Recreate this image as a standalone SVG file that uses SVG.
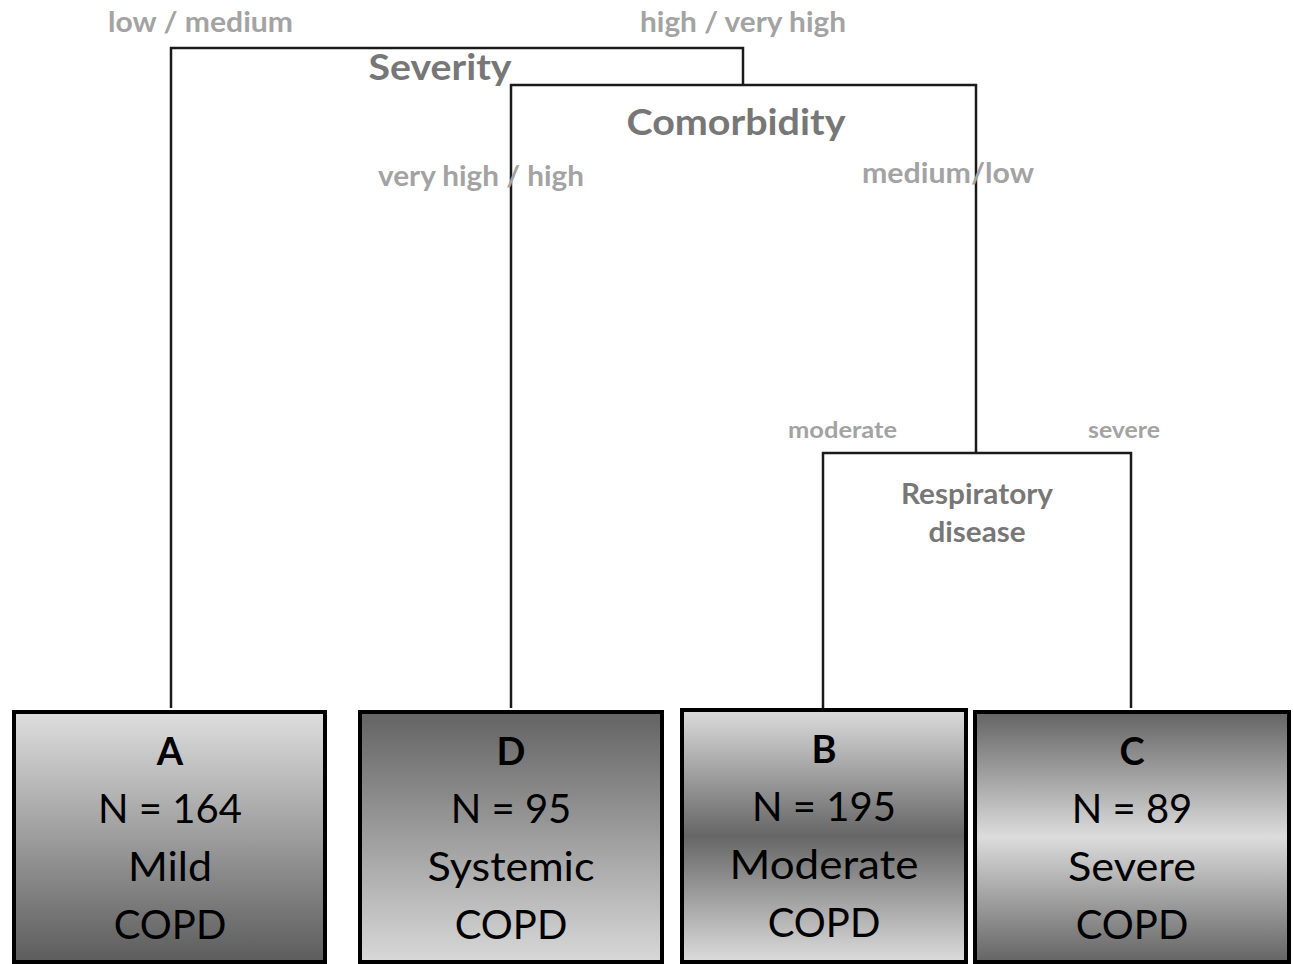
<svg xmlns="http://www.w3.org/2000/svg" width="1293" height="964" viewBox="0 0 1293 964">
<style>
.ln{stroke:#1a1a1a;stroke-width:2.5;fill:none}
.box{stroke:#000;stroke-width:4}
.lbl{font-family:Lato,"Open Sans",sans-serif;font-weight:bold;fill:#a3a3a3}
.hd{font-family:Lato,"Open Sans",sans-serif;font-weight:bold;fill:#777;text-anchor:middle}
.t{font-family:Lato,"Open Sans",sans-serif;fill:#000;text-anchor:middle;font-size:40px}
.b{font-weight:bold;font-size:38px}
</style>
<defs>
<linearGradient id="gA" x1="0" y1="0" x2="0" y2="1"><stop offset="0" stop-color="#dedede"/><stop offset="1" stop-color="#5c5c5c"/></linearGradient>
<linearGradient id="gD" x1="0" y1="0" x2="0" y2="1"><stop offset="0" stop-color="#636363"/><stop offset="1" stop-color="#d8d8d8"/></linearGradient>
<linearGradient id="gB" x1="0" y1="0" x2="0" y2="1"><stop offset="0" stop-color="#dcdcdc"/><stop offset="0.5" stop-color="#666"/><stop offset="1" stop-color="#dcdcdc"/></linearGradient>
<linearGradient id="gC" x1="0" y1="0" x2="0" y2="1"><stop offset="0" stop-color="#646464"/><stop offset="0.5" stop-color="#dcdcdc"/><stop offset="1" stop-color="#646464"/></linearGradient>
</defs>
<rect width="1293" height="964" fill="#fff"/>
<g id="connectors">
<path class="ln" d="M171,708 V48 H743 V85"/>
<path class="ln" d="M511,708 V85 H976 V453"/>
<path class="ln" d="M823,708 V453 H1131 V708"/>
</g>
<g id="labels">
<text class="lbl" x="108" y="32" font-size="28" textLength="185" lengthAdjust="spacingAndGlyphs">low / medium</text>
<text class="lbl" x="640" y="32" font-size="28" textLength="206" lengthAdjust="spacingAndGlyphs">high / very high</text>
<text class="hd" x="440" y="80" font-size="36" textLength="143" lengthAdjust="spacingAndGlyphs">Severity</text>
<text class="hd" x="736" y="135" font-size="36" textLength="219" lengthAdjust="spacingAndGlyphs">Comorbidity</text>
<text class="lbl" x="378" y="186" font-size="28" textLength="206" lengthAdjust="spacingAndGlyphs">very high / high</text>
<text class="lbl" x="862" y="183" font-size="28" textLength="172" lengthAdjust="spacingAndGlyphs">medium/low</text>
<text class="lbl" x="788" y="438" font-size="23" textLength="109" lengthAdjust="spacingAndGlyphs">moderate</text>
<text class="lbl" x="1088" y="438" font-size="23" textLength="72" lengthAdjust="spacingAndGlyphs">severe</text>
<text class="hd" x="977" y="504" font-size="28" textLength="152" lengthAdjust="spacingAndGlyphs">Respiratory</text>
<text class="hd" x="977" y="542" font-size="28" textLength="97" lengthAdjust="spacingAndGlyphs">disease</text>
</g>
<g id="nodeA">
<rect class="box" x="14" y="712" width="311" height="250" fill="url(#gA)"/>
<text class="t b" x="170" y="765">A</text>
<text class="t" x="170" y="823">N = 164</text>
<text class="t" x="170" y="881" textLength="84" lengthAdjust="spacingAndGlyphs">Mild</text>
<text class="t" x="170" y="939">COPD</text>
</g>
<g id="nodeD">
<rect class="box" x="360" y="712" width="302" height="250" fill="url(#gD)"/>
<text class="t b" x="511" y="765">D</text>
<text class="t" x="511" y="823">N = 95</text>
<text class="t" x="511" y="881" textLength="167" lengthAdjust="spacingAndGlyphs">Systemic</text>
<text class="t" x="511" y="939">COPD</text>
</g>
<g id="nodeB">
<rect class="box" x="682" y="710" width="284" height="252" fill="url(#gB)"/>
<text class="t b" x="824" y="763">B</text>
<text class="t" x="824" y="821">N = 195</text>
<text class="t" x="824" y="879" textLength="189" lengthAdjust="spacingAndGlyphs">Moderate</text>
<text class="t" x="824" y="937">COPD</text>
</g>
<g id="nodeC">
<rect class="box" x="975" y="712" width="314" height="250" fill="url(#gC)"/>
<text class="t b" x="1132" y="765">C</text>
<text class="t" x="1132" y="823">N = 89</text>
<text class="t" x="1132" y="881" textLength="128" lengthAdjust="spacingAndGlyphs">Severe</text>
<text class="t" x="1132" y="939">COPD</text>
</g>
</svg>
